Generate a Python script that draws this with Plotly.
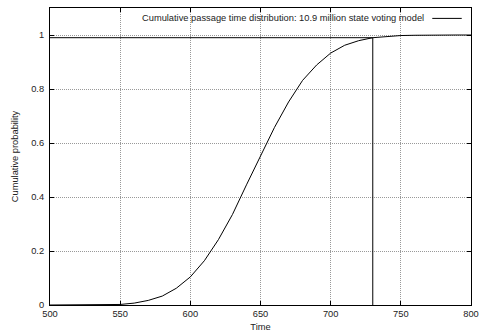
import plotly.graph_objects as go

time = [500, 510, 520, 530, 540, 550, 560, 570, 580, 590, 600, 610, 620, 630, 640,
        650, 660, 670, 680, 690, 700, 710, 720, 730, 740, 750, 760, 770, 780, 790, 800]
prob = [0.0, 0.0, 0.0, 0.0, 0.0005, 0.002, 0.007, 0.017, 0.033, 0.062, 0.104, 0.164,
        0.242, 0.335, 0.445, 0.552, 0.658, 0.752, 0.832, 0.889, 0.933, 0.962, 0.979,
        0.99, 0.995, 0.998, 0.999, 1.0, 1.0, 1.0, 1.0]

pct_time = 730
pct_prob = 0.99
x_ticks = [500, 550, 600, 650, 700, 750, 800]
y_ticks = [0, 0.2, 0.4, 0.6, 0.8, 1]
y_tick_labels = ["0", "0.2", "0.4", "0.6", "0.8", "1"]
legend_text = "Cumulative passage time distribution: 10.9 million state voting model"

font = "Liberation Sans, Arial, Helvetica, sans-serif"
fs = 9.3

fig = go.Figure()
fig.add_trace(go.Scatter(x=time, y=prob, mode="lines",
                         line=dict(color="black", width=1), showlegend=False))
fig.add_trace(go.Scatter(x=[time[0], pct_time, pct_time], y=[pct_prob, pct_prob, 0],
                         mode="lines", line=dict(color="black", width=1), showlegend=False))

axis_common = dict(
    showline=True, linecolor="black", linewidth=1, mirror="allticks",
    ticks="inside", ticklen=4, tickcolor="black", tickwidth=1,
    showgrid=True, gridcolor="#999999", gridwidth=1, griddash="1px,1px",
    zeroline=False, automargin=False,
    tickfont=dict(family=font, size=fs, color="#222222"),
)

fig.update_xaxes(range=[500, 800], tickvals=x_ticks,
                 title=dict(text="Time", font=dict(family=font, size=fs, color="#222222"), standoff=5),
                 **axis_common)
fig.update_yaxes(range=[0, 1.1], tickvals=y_ticks, ticktext=y_tick_labels,
                 ticklabelstandoff=3,
                 title=dict(text="Cumulative probability", font=dict(family=font, size=fs, color="#222222"), standoff=10),
                 **axis_common)

fig.add_annotation(xref="paper", yref="paper", x=0.894, y=0.965, text=legend_text,
                   showarrow=False, xanchor="right", yanchor="middle",
                   font=dict(family=font, size=fs, color="#222222"))
fig.add_shape(type="line", xref="paper", yref="paper", x0=0.908, x1=0.978, y0=0.965, y1=0.965,
              line=dict(color="black", width=1))

fig.update_layout(
    width=481, height=336,
    margin=dict(l=50, r=10, t=8, b=31),
    plot_bgcolor="white", paper_bgcolor="white",
    font=dict(family=font, size=fs, color="#222222"),
)

fig.write_html("out.html", config={"displayModeBar": False, "responsive": False},
               post_script="document.body.style.margin='0';document.body.style.overflow='hidden';")
